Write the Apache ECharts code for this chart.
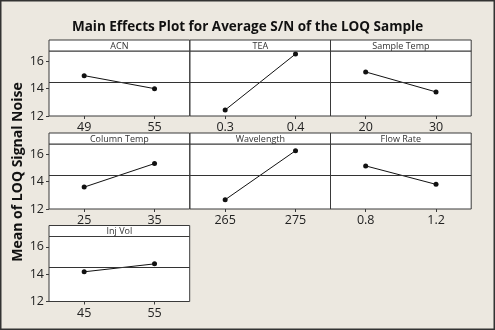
<!DOCTYPE html>
<html>
<head>
<meta charset="utf-8">
<script src="https://cdn.jsdelivr.net/npm/echarts@6/dist/echarts.min.js"></script>
<style>
html,body{margin:0;padding:0;background:#ece8e0;}
#chart{width:495px;height:330px;}
</style>
</head>
<body>
<div id="chart"></div>
<script>
// Main effects: mean S/N at the low and high level of each factor
const factorNames = ['ACN', 'TEA', 'Sample Temp', 'Column Temp', 'Wavelength', 'Flow Rate', 'Inj Vol'];
const levelLow  = [49, 0.3, 20, 25, 265, 0.8, 45];
const levelHigh = [55, 0.4, 30, 35, 275, 1.2, 55];
const meanLow   = [14.95, 12.44, 15.22, 13.60, 12.68, 15.15, 14.17];
const meanHigh  = [14.00, 16.53, 13.76, 15.32, 16.26, 13.80, 14.75];
const yTicks = [12, 14, 16];

const allMeans = meanLow.concat(meanHigh);
const grandMean = allMeans.reduce((a, b) => a + b, 0) / allMeans.length;

const FONT = '"Open Sans", "DejaVu Sans", sans-serif';
const EDGE = '#3a3a3a';

// panel layout (3 columns, 3 rows)
const colLeft = [49, 190, 330.5];
const colWidth = 140.7;
const rowTop = [40, 133, 225.5];
const stripH = 11;
const plotH = 65;

const grids = [], xAxes = [], yAxes = [], series = [], graphics = [];

factorNames.forEach((name, i) => {
  const col = i % 3, row = Math.floor(i / 3);
  const left = colLeft[col];
  const top = rowTop[row] + stripH;
  grids.push({
    left: left, top: top, width: colWidth, height: plotH,
    show: true, backgroundColor: '#fff', borderColor: EDGE, borderWidth: 1
  });
  const lo = levelLow[i], hi = levelHigh[i], span = hi - lo;
  xAxes.push({
    type: 'value', gridIndex: i,
    min: lo - span / 2, max: hi + span / 2,
    splitLine: { show: false },
    axisLine: { show: false },
    axisTick: { show: true, length: 3, lineStyle: { color: EDGE }, customValues: [lo, hi] },
    axisLabel: {
      customValues: [lo, hi], margin: 5,
      color: '#222', fontSize: 12.5, fontFamily: FONT,
      formatter: v => String(v)
    }
  });
  yAxes.push({
    type: 'value', gridIndex: i,
    min: 12, max: 16.75, interval: 2,
    splitLine: { show: false },
    axisLine: { show: false },
    axisTick: { show: col === 0, length: 3, lineStyle: { color: EDGE }, customValues: yTicks },
    axisLabel: {
      show: col === 0, customValues: yTicks, margin: 5,
      color: '#222', fontSize: 12.5, fontFamily: FONT
    }
  });
  series.push({
    type: 'line', xAxisIndex: i, yAxisIndex: i,
    data: [[lo, meanLow[i]], [hi, meanHigh[i]]],
    symbol: 'circle', symbolSize: 5,
    itemStyle: { color: '#111' },
    lineStyle: { color: '#111', width: 1 },
    silent: true,
    markLine: {
      silent: true, symbol: 'none', label: { show: false },
      lineStyle: { color: '#333', width: 1, type: 'solid' },
      data: [{ yAxis: grandMean }]
    },
    z: 3
  });
  // factor name strip above each panel
  graphics.push({
    type: 'rect',
    shape: { x: left, y: rowTop[row], width: colWidth, height: stripH },
    style: { fill: '#fff', stroke: EDGE, lineWidth: 1 },
    z: 10
  });
  graphics.push({
    type: 'text',
    x: left + colWidth / 2, y: rowTop[row] + stripH / 2 + 0.5,
    style: {
      text: name, fill: '#333', font: '9px ' + FONT,
      align: 'center', verticalAlign: 'middle'
    },
    z: 11
  });
});

// y-axis title
graphics.push({
  type: 'text', x: 18, y: 172, rotation: Math.PI / 2,
  style: {
    text: 'Mean of LOQ Signal Noise', fill: '#111',
    font: 'bold 14px ' + FONT, align: 'center', verticalAlign: 'middle'
  }
});
// outer frame
graphics.push({
  type: 'rect', shape: { x: 0.75, y: 0.75, width: 493.5, height: 328.5 },
  style: { fill: null, stroke: '#333', lineWidth: 1.5 }, z: 20
});

const chart = echarts.init(document.getElementById('chart'), null, { renderer: 'canvas' });
chart.setOption({
  backgroundColor: '#ece8e0',
  animation: false,
  title: {
    text: 'Main Effects Plot for Average S/N of the LOQ Sample',
    left: 'center', top: 15,
    textStyle: { fontFamily: FONT, fontWeight: 'bold', fontSize: 13.5, color: '#111' }
  },
  grid: grids,
  xAxis: xAxes,
  yAxis: yAxes,
  series: series,
  graphic: graphics
});
</script>
</body>
</html>
